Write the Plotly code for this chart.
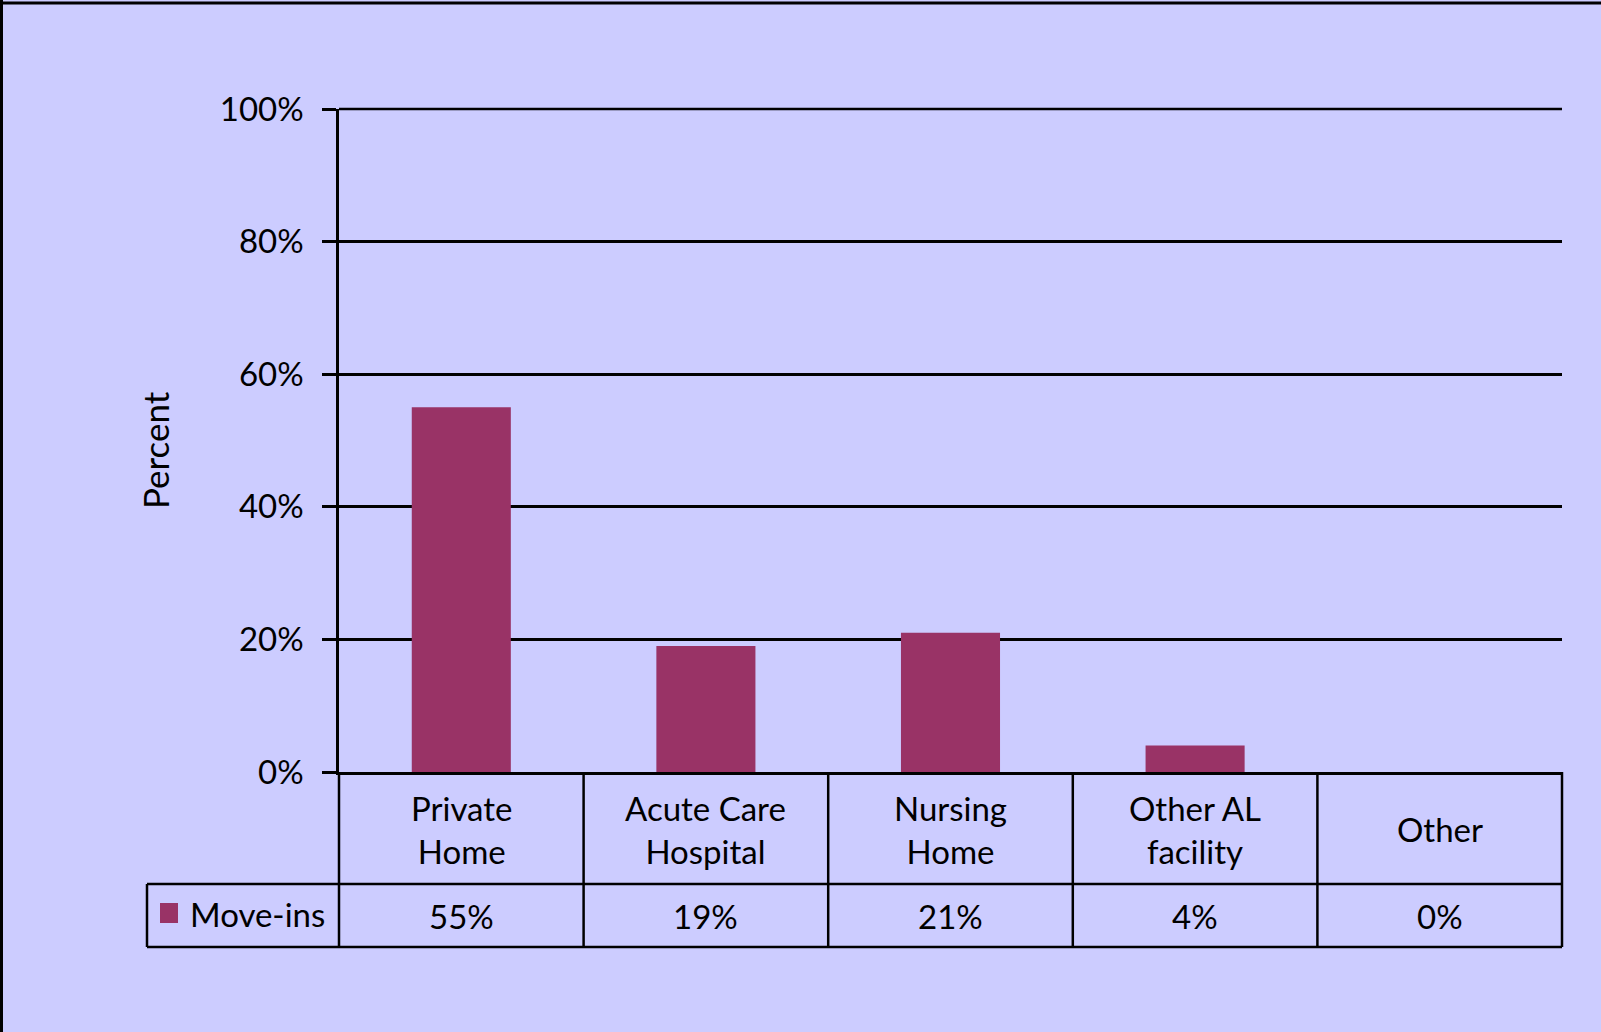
import plotly.graph_objects as go

categories = ["Private Home", "Acute Care Hospital", "Nursing Home", "Other AL facility", "Other"]
header_labels = ["Private<br>Home", "Acute Care<br>Hospital", "Nursing<br>Home", "Other AL<br>facility", "Other"]
move_ins = [55, 19, 21, 4, 0]
series_name = "Move-ins"
y_ticks = [0, 20, 40, 60, 80, 100]
y_tick_labels = ["0%", "20%", "40%", "60%", "80%", "100%"]

W, H = 1601, 1032
L, R, T, B = 339, 1562, 109, 772
BG = "#CCCCFF"
BAR = "#993366"
FONT = "Lato"
FS = 33


def px(x):
    return (x - L) / (R - L)


def py(y):
    return (B - y) / (B - T)


fig = go.Figure()
fig.add_trace(go.Bar(
    x=categories, y=move_ins, name=series_name,
    marker=dict(color=BAR, line=dict(width=0)),
    showlegend=False, hoverinfo="skip",
))

shapes = []
n = len(categories)
# 100% gridline (top edge of the plot area)
shapes.append(dict(type="line", xref="paper", yref="paper",
                   x0=0, x1=1, y0=1, y1=1,
                   line=dict(color="black", width=2.5)))
# table vertical lines (column boundaries)
for i in range(n + 1):
    shapes.append(dict(type="line", xref="paper", yref="paper",
                       x0=i / n, x1=i / n, y0=py(B), y1=py(947),
                       line=dict(color="black", width=2.5)))
# table horizontal lines
for yy in (884, 947):
    shapes.append(dict(type="line", xref="paper", yref="paper",
                       x0=px(147), x1=1, y0=py(yy), y1=py(yy),
                       line=dict(color="black", width=2.5)))
# legend cell left edge
shapes.append(dict(type="line", xref="paper", yref="paper",
                   x0=px(147), x1=px(147), y0=py(884), y1=py(947),
                   line=dict(color="black", width=2.5)))
# legend key square
shapes.append(dict(type="rect", xref="paper", yref="paper",
                   x0=px(160), x1=px(178), y0=py(903), y1=py(923),
                   fillcolor=BAR, line=dict(width=0)))
# outer frame (top and left)
shapes.append(dict(type="line", xref="paper", yref="paper",
                   x0=px(0), x1=px(W), y0=py(3), y1=py(3),
                   line=dict(color="black", width=3)))
shapes.append(dict(type="line", xref="paper", yref="paper",
                   x0=px(1.5), x1=px(1.5), y0=py(0), y1=py(H),
                   line=dict(color="black", width=3)))

annotations = []
for cat, lab, v in zip(categories, header_labels, move_ins):
    annotations.append(dict(x=cat, xref="x", y=py(829), yref="paper",
                            text=lab, showarrow=False, xanchor="center", yanchor="middle",
                            font=dict(family=FONT, size=FS, color="black")))
    annotations.append(dict(x=cat, xref="x", y=py(916), yref="paper",
                            text=f"{v}%", showarrow=False, xanchor="center", yanchor="middle",
                            font=dict(family=FONT, size=FS, color="black")))
annotations.append(dict(x=px(188), xref="paper", y=py(914), yref="paper",
                        text=series_name, showarrow=False, xanchor="left", yanchor="middle",
                        font=dict(family=FONT, size=FS, color="black")))
annotations.append(dict(x=px(155), xref="paper", y=py(450), yref="paper",
                        text="Percent", textangle=-90, showarrow=False,
                        xanchor="center", yanchor="middle",
                        font=dict(family=FONT, size=35, color="black")))

fig.update_layout(
    width=W, height=H,
    margin=dict(l=L, r=W - R, t=T, b=H - B),
    paper_bgcolor=BG, plot_bgcolor=BG,
    bargap=0.595,
    font=dict(family=FONT, size=FS, color="black"),
    shapes=shapes, annotations=annotations,
    xaxis=dict(showticklabels=False, showgrid=False, zeroline=False,
               showline=True, linecolor="black", linewidth=2.5,
               range=[-0.5, n - 0.5], ticks="", fixedrange=True),
    yaxis=dict(range=[0, 100], tickvals=y_ticks, ticktext=y_tick_labels,
               showgrid=True, gridcolor="black", gridwidth=2.5,
               zeroline=False, showline=True, linecolor="black", linewidth=2.5,
               ticks="outside", ticklen=14, tickwidth=2.5, tickcolor="black",
               ticklabelstandoff=12,
               tickfont=dict(family=FONT, size=FS, color="black"), fixedrange=True),
)

fig.write_html(
    "out.html",
    config={"displayModeBar": False},
    post_script="document.body.style.margin='0';document.body.style.overflow='hidden';"
                f"document.body.style.background='{BG}';",
)
